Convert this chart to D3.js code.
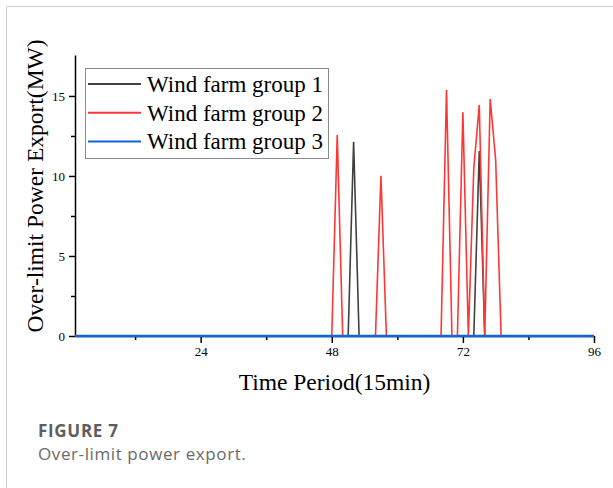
<!DOCTYPE html>
<html>
<head>
<meta charset="utf-8">
<script src="https://cdn.jsdelivr.net/npm/d3@7"></script>
<style>
  body { margin: 0; background: #fff; }
  svg { display: block; }
</style>
</head>
<body>
<div id="chart-area"></div>
<script>
// time periods 1..96 (15 min each)
const periods = d3.range(1, 97);

// over-limit power export (MW)
const group1 = [
  0,0,0,0,0,0,0,0,0,0,0,0,0,0,0,0,0,0,0,0,0,0,0,0,
  0,0,0,0,0,0,0,0,0,0,0,0,0,0,0,0,0,0,0,0,0,0,0,0,
  0,0,0,12.14,0,0,0,0,0,0,0,0,0,0,0,0,0,0,0,0,0,0,0,0,
  0,0,11.56,0,0,0,0,0,0,0,0,0,0,0,0,0,0,0,0,0,0,0,0,0
];
const group2 = [
  0,0,0,0,0,0,0,0,0,0,0,0,0,0,0,0,0,0,0,0,0,0,0,0,
  0,0,0,0,0,0,0,0,0,0,0,0,0,0,0,0,0,0,0,0,0,0,0,0,
  12.56,0,0,0,0,0,0,0,10.02,0,0,0,0,0,0,0,0,0,0,0,15.38,0,0,13.98,
  0,10.5,14.44,0,14.81,11.0,0,0,0,0,0,0,0,0,0,0,0,0,0,0,0,0,0,0
];
const group3 = [
  0,0,0,0,0,0,0,0,0,0,0,0,0,0,0,0,0,0,0,0,0,0,0,0,
  0,0,0,0,0,0,0,0,0,0,0,0,0,0,0,0,0,0,0,0,0,0,0,0,
  0,0,0,0,0,0,0,0,0,0,0,0,0,0,0,0,0,0,0,0,0,0,0,0,
  0,0,0,0,0,0,0,0,0,0,0,0,0,0,0,0,0,0,0,0,0,0,0,0
];
const seriesNames = ["Wind farm group 1", "Wind farm group 2", "Wind farm group 3"];
const seriesColors = ["#404040", "#ff3636", "#0f66d8"];

const xMajor = [24, 48, 72, 96];
const xMinor = [12, 36, 60, 84];
const yMajor = [0, 5, 10, 15];
const yMinor = [2.5, 7.5, 12.5];

const serif = "'Liberation Serif', 'Times New Roman', serif";
const sans = "'Open Sans', 'Noto Sans', sans-serif";

const svg = d3.select("#chart-area").append("svg")
  .attr("width", 613)
  .attr("height", 488);

// card border (top + left)
svg.append("path")
  .attr("d", "M6.5,488V6.5H613")
  .attr("fill", "none")
  .attr("stroke", "#d0d0d0")
  .attr("stroke-width", 1);

// scales
const x = d3.scaleLinear().domain([1, 96]).range([75, 594]);
const y = d3.scaleLinear().domain([0, 17.56]).range([336, 55]);

// x axis
const xAxis = svg.append("g")
  .attr("transform", "translate(0,336)")
  .call(d3.axisBottom(x).tickValues(xMajor).tickSize(7).tickSizeOuter(0));
svg.append("g")
  .attr("transform", "translate(0,336)")
  .call(d3.axisBottom(x).tickValues(xMinor).tickSize(4).tickFormat(""))
  .select(".domain").remove();

// y axis
const yAxis = svg.append("g")
  .attr("transform", "translate(75,0)")
  .call(d3.axisLeft(y).tickValues(yMajor).tickSize(6).tickSizeOuter(0));
svg.append("g")
  .attr("transform", "translate(75,0)")
  .call(d3.axisLeft(y).tickValues(yMinor).tickSize(4).tickFormat(""))
  .select(".domain").remove();

svg.selectAll(".domain, .tick line")
  .attr("stroke", "#000")
  .attr("stroke-width", 1.5);
svg.selectAll(".tick text")
  .attr("font-family", serif)
  .attr("font-size", 13)
  .attr("fill", "#000");
xAxis.selectAll(".tick text").attr("y", 11);
yAxis.selectAll(".tick text").attr("x", -10);

// axis titles
svg.append("text")
  .attr("x", 334.5)
  .attr("y", 390)
  .attr("text-anchor", "middle")
  .attr("font-family", serif)
  .attr("font-size", 23.5)
  .text("Time Period(15min)");

svg.append("text")
  .attr("transform", "translate(43,186) rotate(-90)")
  .attr("text-anchor", "middle")
  .attr("font-family", serif)
  .attr("font-size", 23.5)
  .text("Over-limit Power Export(MW)");

// lines, group 1 first so group 3 sits on top
const line = d3.line()
  .x((d, i) => x(periods[i]))
  .y(d => y(d));

[group1, group2, group3].forEach(function (values, i) {
  svg.append("path")
    .datum(values)
    .attr("fill", "none")
    .attr("stroke", seriesColors[i])
    .attr("stroke-width", i === 2 ? 2.4 : 1.6)
    .attr("stroke-linejoin", "miter")
    .attr("d", line);
});

// legend
const legend = svg.append("g")
  .attr("transform", "translate(85,68)");

legend.append("rect")
  .attr("x", 0.5)
  .attr("y", 0.5)
  .attr("width", 243)
  .attr("height", 90)
  .attr("fill", "#fff")
  .attr("stroke", "#8a8a8a")
  .attr("stroke-width", 1);

seriesNames.forEach(function (name, i) {
  const row = legend.append("g")
    .attr("transform", "translate(0," + (16 + i * 28.8) + ")");

  row.append("line")
    .attr("x1", 3)
    .attr("x2", 56)
    .attr("stroke", seriesColors[i])
    .attr("stroke-width", 2);

  row.append("text")
    .attr("x", 62)
    .attr("y", 7.7)
    .attr("font-family", serif)
    .attr("font-size", 23)
    .text(name);
});

// caption
svg.append("text")
  .attr("x", 38)
  .attr("y", 437)
  .attr("font-family", sans)
  .attr("font-size", 17)
  .attr("font-weight", "bold")
  .attr("letter-spacing", 0.7)
  .attr("fill", "#5e5e5e")
  .text("FIGURE 7");

svg.append("text")
  .attr("x", 38)
  .attr("y", 460)
  .attr("font-family", sans)
  .attr("font-size", 17)
  .attr("letter-spacing", 0.6)
  .attr("fill", "#6a6a6a")
  .text("Over-limit power export.");
</script>
</body>
</html>
